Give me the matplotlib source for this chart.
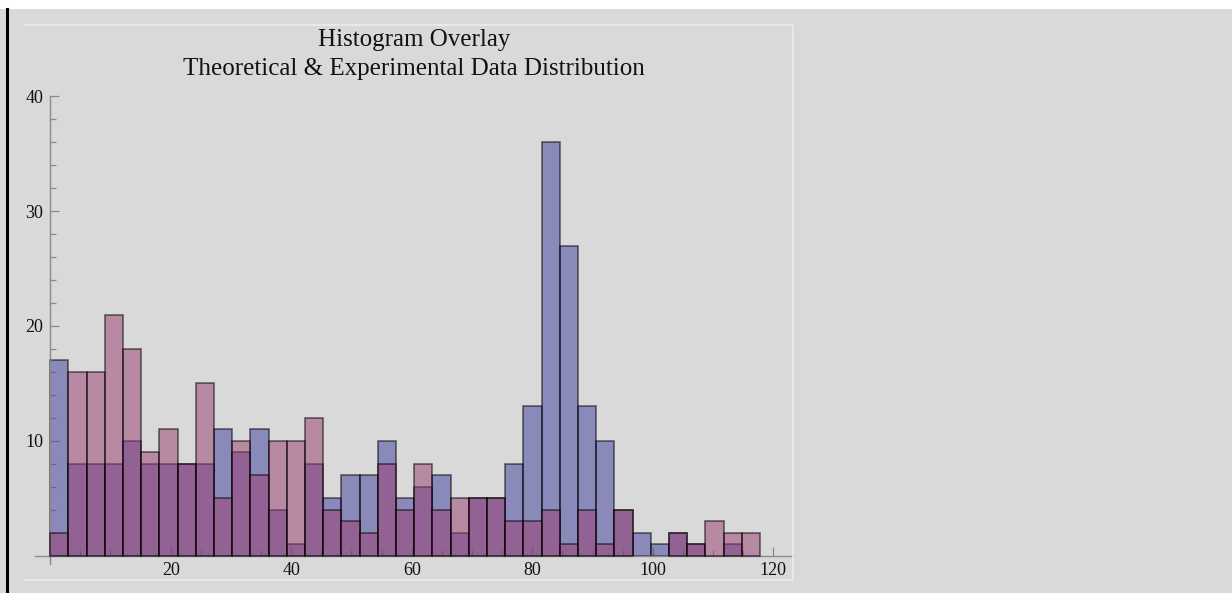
import numpy as np
import matplotlib
matplotlib.use('Agg')
import matplotlib.pyplot as plt
from matplotlib.lines import Line2D
from matplotlib.ticker import MultipleLocator

# ── DATA ─────────────────────────────────────────────
# counts per bin (bins of ~3.02 units starting at 0)
bin_width = 3.02
theoretical = [17, 8, 8, 8, 10, 8, 8, 8, 8, 11, 9, 11, 4, 1, 8, 5, 7, 7, 10, 5,
               6, 7, 2, 5, 5, 8, 13, 36, 27, 13, 10, 4, 2, 1, 2, 1, 0, 1, 0]
experimental = [2, 16, 16, 21, 18, 9, 11, 8, 15, 5, 10, 7, 10, 10, 12, 4, 3, 2, 8, 4,
                8, 4, 5, 5, 5, 3, 3, 4, 1, 4, 1, 4, 0, 0, 2, 1, 3, 2, 2]
x_ticks = [20, 40, 60, 80, 100, 120]
y_ticks = [10, 20, 30, 40]
title_lines = ["Histogram Overlay", "Theoretical & Experimental Data Distribution"]

left_edges = np.arange(len(theoretical)) * bin_width

BG = '#d9d9d9'
BLUE = (61/255, 61/255, 157/255, 0.5)
PINK = (153/255, 59/255, 109/255, 0.5)
EDGE = (0, 0, 0, 0.55)
AXIS = '#8a8a8a'

W, H = 1232, 593
fig = plt.figure(figsize=(W/100, H/100), dpi=100, facecolor=BG)

# white strip at the top and black bar at the left, like the screenshot
fig.patches.append(plt.Rectangle((0, 1 - 8.5/H), 1, 8.5/H, transform=fig.transFigure,
                                 facecolor='white', edgecolor='none', zorder=0))
fig.lines.append(Line2D([7/W, 7/W], [0, 1 - 8.5/H], transform=fig.transFigure,
                        color='black', lw=2.2))

# faint plot frame (top, right, bottom)
fx0, fx1, fy0, fy1 = 25/W, 793/W, 1 - 580/H, 1 - 25/H
fig.lines.append(Line2D([fx0, fx1, fx1, fx0], [fy1, fy1, fy0, fy0],
                        transform=fig.transFigure, color='#ececec', lw=1.2))

# axes placement from pixel mapping
x0px, xscale = 50.2, 6.026
y0px, yscale = 555.5, 11.475
xmin, xmax = -2.5, 123.3
ymin, ymax = -0.75, 40.0
ax_left = (x0px + xmin * xscale) / W
ax_w = (xmax - xmin) * xscale / W
ax_bot = (H - (y0px - ymin * yscale)) / H
ax_h = (ymax - ymin) * yscale / H
ax = fig.add_axes([ax_left, ax_bot, ax_w, ax_h])
ax.set_facecolor('none')

for i, (t, e) in enumerate(zip(theoretical, experimental)):
    if t > 0:
        ax.bar(left_edges[i], t, width=bin_width, align='edge', color=BLUE,
               edgecolor=EDGE, linewidth=1.2, zorder=2)
for i, e in enumerate(experimental):
    if e > 0:
        ax.bar(left_edges[i], e, width=bin_width, align='edge', color=PINK,
               edgecolor=EDGE, linewidth=1.2, zorder=3)

ax.set_xlim(xmin, xmax)
ax.set_ylim(ymin, ymax)

for s in ['top', 'right']:
    ax.spines[s].set_visible(False)
ax.spines['left'].set_position(('data', 0))
ax.spines['bottom'].set_position(('data', 0))
for s in ['left', 'bottom']:
    ax.spines[s].set_color(AXIS)
    ax.spines[s].set_linewidth(1.0)

ax.set_xticks(x_ticks)
ax.set_yticks(y_ticks)
ax.xaxis.set_minor_locator(MultipleLocator(5))
ax.yaxis.set_minor_locator(MultipleLocator(2))
ax.tick_params(which='both', direction='in', color=AXIS, width=0.9)
ax.tick_params(which='major', length=6.5)
ax.tick_params(which='minor', length=4)
ax.tick_params(axis='x', which='major', pad=4.5)
ax.tick_params(axis='y', which='major', pad=5)
for lab in ax.get_xticklabels() + ax.get_yticklabels():
    lab.set_fontfamily('Liberation Serif')
    lab.set_fontsize(13)
    lab.set_color('#111111')

# two-line title
fig.text(414/W, 1 - 46/H, title_lines[0], ha='center', va='baseline',
         fontfamily='Liberation Serif', fontsize=18, color='#111111')
fig.text(414/W, 1 - 75/H, title_lines[1], ha='center', va='baseline',
         fontfamily='Liberation Serif', fontsize=18, color='#111111')

fig.savefig('out.png', dpi=100, facecolor=BG)
